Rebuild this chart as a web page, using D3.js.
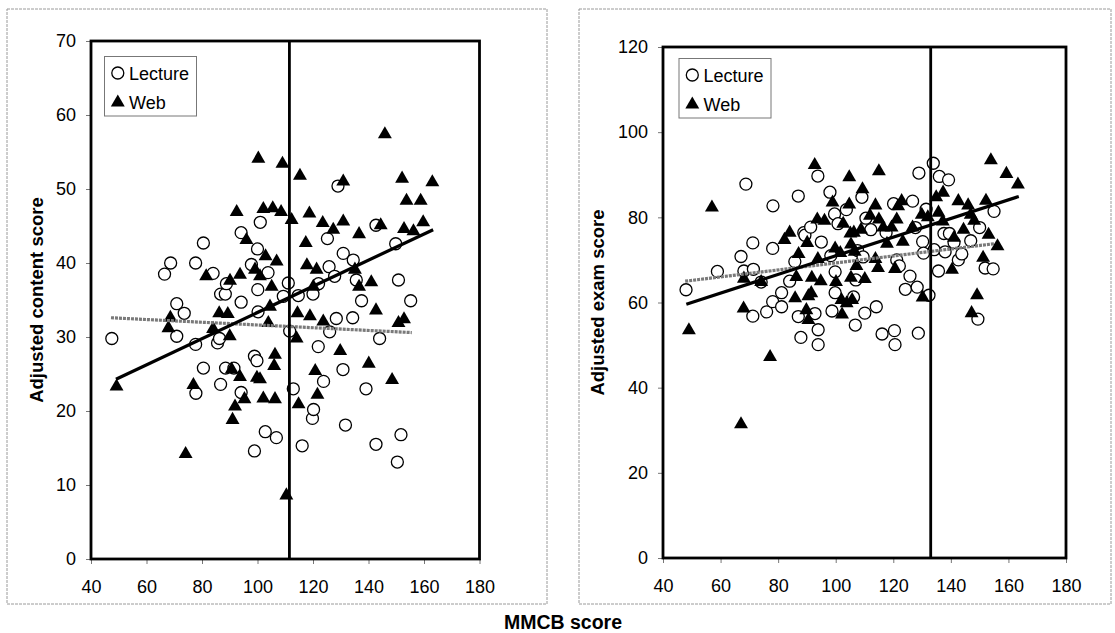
<!DOCTYPE html>
<html>
<head>
<meta charset="utf-8">
<script src="https://d3js.org/d3.v7.min.js"></script>
<style>
  body { margin: 0; background: #fff; }
  svg text { font-family: "Liberation Sans", Arial, sans-serif; }
</style>
</head>
<body>
<div id="graph"></div>
<script>
// MMCB score vs adjusted scores, two panels

var xTicks = [40, 60, 80, 100, 120, 140, 160, 180];
var contentTicks = [0, 10, 20, 30, 40, 50, 60, 70];
var examTicks = [0, 20, 40, 60, 80, 100, 120];
var seriesNames = ["Lecture", "Web"];

// left panel: adjusted content score
var contentLecture = [
  [47.5, 29.8], [66.5, 38.5], [68.7, 40.0], [70.9, 34.5], [70.9, 30.1], [73.6, 33.2],
  [77.7, 40.0], [77.7, 29.0], [77.8, 22.4], [80.5, 42.7], [80.5, 25.8], [84.0, 38.6],
  [85.6, 29.2], [86.7, 23.6], [86.7, 35.8], [86.3, 29.8], [88.4, 35.8], [88.8, 37.2],
  [88.5, 25.8], [91.5, 25.8], [94.1, 34.7], [94.1, 44.1], [94.1, 22.5], [97.8, 39.8],
  [98.9, 27.4], [99.8, 26.8], [98.9, 14.6], [100.0, 41.9], [101.0, 45.5], [100.1, 36.4],
  [100.2, 33.4], [102.8, 17.2], [103.8, 38.7], [106.8, 16.4], [109.3, 35.5], [111.1, 37.3],
  [111.6, 30.8], [112.9, 23.0], [114.7, 35.6], [116.1, 15.3], [120.0, 35.8], [119.8, 19.0],
  [120.2, 20.2], [121.9, 28.7], [122.0, 37.2], [123.8, 24.0], [125.2, 43.3], [125.8, 39.5],
  [126.0, 30.7], [127.8, 38.2], [128.4, 32.5], [129.0, 50.4], [130.9, 41.3], [130.8, 25.6],
  [131.7, 18.1], [134.3, 32.6], [134.5, 40.4], [135.6, 37.7], [137.5, 34.9], [139.1, 23.0],
  [142.7, 15.5], [142.7, 45.1], [144.0, 29.8], [149.8, 42.6], [150.8, 37.7], [150.4, 13.1],
  [151.7, 16.8], [155.2, 34.9]
];
var contentWeb = [
  [49.2, 23.3], [74.1, 14.2], [67.9, 31.2], [68.6, 32.6], [76.9, 23.5], [81.5, 38.2],
  [84.0, 31.1], [86.2, 33.2], [89.3, 33.1], [90.1, 37.6], [90.0, 30.1], [90.7, 25.6],
  [91.9, 20.6], [91.0, 18.8], [92.5, 46.9], [93.7, 38.4], [93.7, 24.6], [95.3, 21.6],
  [96.0, 43.1], [99.1, 39.1], [99.8, 24.5], [100.3, 54.1], [100.9, 24.3], [100.9, 38.2],
  [102.1, 47.3], [102.9, 40.9], [102.1, 21.7], [103.9, 31.9], [104.5, 34.1], [105.5, 47.4],
  [105.1, 36.8], [106.3, 27.6], [106.0, 26.1], [106.3, 21.6], [106.9, 40.2], [108.5, 46.9],
  [109.0, 53.4], [110.4, 8.6], [112.3, 45.8], [114.4, 33.2], [114.1, 29.8], [115.3, 51.8],
  [114.8, 20.9], [117.4, 42.7], [117.8, 39.7], [118.7, 46.7], [118.9, 32.8], [120.1, 36.8],
  [120.8, 25.4], [121.3, 39.1], [121.6, 22.2], [123.5, 45.4], [123.7, 32.1], [127.3, 44.5],
  [129.8, 28.1], [130.9, 51.0], [130.9, 45.6], [135.1, 39.1], [136.6, 36.8], [136.6, 43.9],
  [140.1, 26.4], [141.0, 37.4], [142.7, 33.6], [144.4, 45.1], [145.9, 57.4], [148.5, 24.2],
  [150.8, 31.9], [152.1, 51.4], [152.8, 32.4], [152.8, 44.6], [153.7, 48.4], [156.2, 44.3],
  [158.8, 48.4], [159.7, 45.5], [163.0, 50.9]
];
var contentLectureFit = [[47.2, 32.6], [155.6, 30.6]];
var contentWebFit = [[49.0, 24.3], [163.3, 44.5]];
var contentCut = 111.5;

// right panel: adjusted exam score
var examLecture = [
  [48.0, 63.0], [58.9, 67.3], [67.1, 70.8], [68.8, 87.8], [68.1, 67.4], [71.4, 67.8],
  [71.2, 74.0], [71.2, 56.8], [74.1, 64.8], [76.0, 57.8], [78.1, 60.2], [78.2, 82.7],
  [78.1, 72.7], [81.2, 59.0], [81.2, 62.3], [84.0, 65.0], [85.8, 69.6], [87.0, 85.0],
  [87.0, 56.7], [87.9, 51.8], [88.9, 76.4], [89.3, 75.8], [91.3, 77.7], [92.8, 57.4],
  [93.8, 89.7], [93.9, 53.6], [93.9, 50.1], [95.0, 74.2], [98.0, 85.9], [98.7, 58.0],
  [98.3, 71.0], [99.6, 80.8], [99.8, 67.2], [99.8, 62.3], [100.8, 78.5], [103.7, 81.8],
  [106.2, 61.3], [106.8, 54.7], [107.0, 65.3], [107.6, 72.2], [109.1, 84.7], [109.5, 70.7],
  [110.1, 57.5], [110.5, 79.8], [112.2, 77.1], [114.1, 59.0], [116.1, 52.6], [117.5, 76.4],
  [120.1, 83.2], [120.4, 53.4], [120.6, 50.1], [121.2, 70.0], [122.1, 68.6], [124.2, 63.1],
  [125.8, 66.2], [126.7, 83.8], [127.7, 77.6], [128.3, 63.6], [128.7, 52.8], [128.9, 90.4],
  [130.2, 74.3], [130.5, 71.6], [131.4, 81.9], [132.4, 61.7], [133.9, 92.7], [134.2, 72.4],
  [135.7, 67.4], [136.0, 89.6], [137.6, 76.2], [138.0, 71.9], [139.2, 88.8], [139.5, 76.2],
  [141.1, 74.1], [142.6, 70.0], [143.8, 71.4], [146.9, 74.5], [149.4, 56.1], [150.0, 77.6],
  [151.9, 68.1], [155.0, 81.4], [154.7, 67.9]
];
var examWeb = [
  [49.0, 53.5], [57.0, 82.3], [67.1, 31.4], [68.0, 58.6], [68.1, 65.6], [74.1, 64.8],
  [77.2, 47.2], [82.2, 74.7], [84.0, 76.4], [85.9, 61.0], [87.1, 71.4], [86.3, 66.0],
  [90.1, 74.0], [90.5, 61.5], [90.5, 55.9], [89.8, 58.2], [91.5, 62.2], [91.7, 65.8],
  [92.7, 92.3], [93.6, 79.5], [93.8, 70.2], [94.8, 65.0], [96.1, 79.2], [98.9, 83.5],
  [99.8, 72.7], [100.1, 64.8], [101.6, 71.6], [102.0, 60.6], [102.2, 57.2], [102.6, 78.5],
  [103.8, 59.8], [104.7, 89.4], [104.7, 83.0], [105.1, 76.2], [105.3, 73.6], [105.3, 65.8],
  [105.7, 60.6], [106.3, 76.4], [106.6, 71.9], [107.2, 68.6], [108.8, 77.1], [109.3, 86.6],
  [110.1, 65.5], [111.9, 80.4], [113.8, 82.8], [113.8, 70.2], [114.7, 68.1], [115.0, 79.5],
  [115.0, 90.8], [116.5, 77.6], [117.8, 73.8], [119.4, 77.6], [120.6, 67.9], [121.2, 79.5],
  [121.7, 82.6], [122.9, 83.8], [123.3, 74.3], [126.7, 77.6], [129.9, 80.6], [130.2, 61.2],
  [132.0, 80.0], [134.9, 84.7], [135.7, 81.1], [137.3, 85.8], [137.2, 79.0], [140.4, 67.7],
  [141.1, 75.2], [142.6, 83.8], [144.4, 77.1], [146.0, 82.8], [146.9, 80.6], [147.2, 57.5],
  [148.1, 79.2], [149.1, 61.7], [151.2, 70.5], [152.2, 83.9], [153.1, 75.9], [153.9, 93.4],
  [156.2, 73.2], [159.3, 90.2], [163.3, 87.7]
];
var examLectureFit = [[47.7, 65.0], [155.0, 73.8]];
var examWebFit = [[48.1, 59.6], [163.6, 84.9]];
var examCut = 133;

var width = 1115, height = 633;

var svg = d3.select("#graph").append("svg")
    .attr("width", width).attr("height", height);

function panel(p) {
    // outer frame of each panel
    svg.append("rect")
        .attr("x", p.box[0]).attr("y", p.box[1])
        .attr("width", p.box[2]).attr("height", p.box[3])
        .style("fill", "none")
        .style("stroke", "#9a9a9a")
        .style("stroke-width", 1)
        .style("stroke-dasharray", "3,1");

    var x = d3.scaleLinear().domain([40, 180]).range([p.left, p.right]);
    var y = d3.scaleLinear().domain([0, p.yMax]).range([p.bottom, p.top]);

    var g = svg.append("g");

    g.append("g")
        .attr("transform", `translate(0,${p.bottom})`)
        .call(d3.axisBottom(x).tickValues(xTicks).tickSize(5).tickSizeOuter(0))
        .call(a => a.select(".domain").remove())
        .call(a => a.selectAll("line").attr("stroke", "#777"))
        .call(a => a.selectAll("text").attr("dy", "1.45em").style("font-size", "18px").attr("fill", "#000"));

    g.append("g")
        .attr("transform", `translate(${p.left},0)`)
        .call(d3.axisLeft(y).tickValues(p.yTicks).tickSize(5).tickSizeOuter(0))
        .call(a => a.select(".domain").remove())
        .call(a => a.selectAll("line").attr("stroke", "#777"))
        .call(a => a.selectAll("text").attr("x", -15).style("font-size", "18px").attr("fill", "#000"));

    g.append("text")
        .attr("transform", `translate(${p.titleX},${(p.top + p.bottom) / 2}) rotate(-90)`)
        .attr("text-anchor", "middle")
        .style("font-size", "18.5px")
        .style("font-weight", "bold")
        .text(p.title);

    // markers
    g.append("g").selectAll("circle")
        .data(p.lecture)
        .join("circle")
        .attr("cx", d => x(d[0]))
        .attr("cy", d => y(d[1]))
        .attr("r", 6)
        .style("fill", "#fff")
        .style("stroke", "#000")
        .style("stroke-width", 1.3);

    g.append("g").selectAll("path")
        .data(p.web)
        .join("path")
        .attr("transform", d => `translate(${x(d[0])},${y(d[1])})`)
        .attr("d", d3.symbol(d3.symbolTriangle).size(84))
        .style("fill", "#000");

    var line = d3.line().x(d => x(d[0])).y(d => y(d[1]));

    g.append("path")
        .datum(p.lectureFit)
        .attr("d", line)
        .style("fill", "none")
        .style("stroke", "#7a7a7a")
        .style("stroke-width", 3.2)
        .style("stroke-dasharray", "3,1");

    g.append("path")
        .datum(p.webFit)
        .attr("d", line)
        .style("fill", "none")
        .style("stroke", "#000")
        .style("stroke-width", 3.2);

    g.append("line")
        .attr("x1", x(p.cut)).attr("x2", x(p.cut))
        .attr("y1", y(p.yMax)).attr("y2", y(0))
        .style("stroke", "#000")
        .style("stroke-width", 2.8);

    // plot area frame
    g.append("rect")
        .attr("x", p.left).attr("y", p.top)
        .attr("width", p.right - p.left).attr("height", p.bottom - p.top)
        .style("fill", "none")
        .style("stroke", "#000")
        .style("stroke-width", 2.8);

    // legend
    var lg = g.append("g").attr("transform", `translate(${p.legend[0]},${p.legend[1]})`);
    lg.append("rect")
        .attr("width", 92).attr("height", 59.5)
        .style("fill", "#fff")
        .style("stroke", "#777")
        .style("stroke-width", 1);
    lg.append("circle")
        .attr("cx", 13.3).attr("cy", 16.5).attr("r", 6)
        .style("fill", "#fff").style("stroke", "#000").style("stroke-width", 1.3);
    lg.append("path")
        .attr("transform", "translate(13.3,46)")
        .attr("d", d3.symbol(d3.symbolTriangle).size(84))
        .style("fill", "#000");
    lg.selectAll("text")
        .data(seriesNames)
        .join("text")
        .attr("x", 24.5)
        .attr("y", (d, i) => 23 + i * 29)
        .style("font-size", "18px")
        .text(d => d);
}

panel({
    box: [7, 9, 540, 595],
    left: 91, right: 479.5, top: 41, bottom: 559,
    yMax: 70, yTicks: contentTicks,
    title: "Adjusted content score", titleX: 42.5,
    lecture: contentLecture, web: contentWeb,
    lectureFit: contentLectureFit, webFit: contentWebFit,
    cut: contentCut,
    legend: [104.5, 56.5]
});

panel({
    box: [579, 9, 532, 595],
    left: 663, right: 1066, top: 47, bottom: 558,
    yMax: 120, yTicks: examTicks,
    title: "Adjusted exam score", titleX: 603.5,
    lecture: examLecture, web: examWeb,
    lectureFit: examLectureFit, webFit: examWebFit,
    cut: examCut,
    legend: [679, 58.5]
});

svg.append("text")
    .attr("x", 563)
    .attr("y", 629)
    .attr("text-anchor", "middle")
    .style("font-size", "19.5px")
    .style("font-weight", "bold")
    .text("MMCB score");
</script>
</body>
</html>
